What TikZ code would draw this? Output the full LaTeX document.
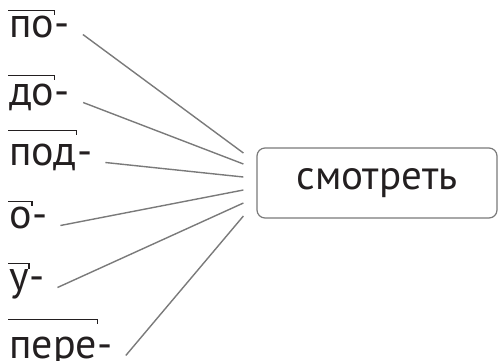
\documentclass[tikz,border=0pt]{standalone}
\usepackage{fontspec}
\setmainfont{PT Sans}
\usetikzlibrary{calc}
\definecolor{linegray}{HTML}{7A7A7A}
\definecolor{inkblack}{HTML}{231F20}
\tikzset{
	pref/.style={inner sep=0pt, text=inkblack, font=\fontsize{42}{48}\selectfont},
	verb/.style={draw=linegray, line width=1.2pt, rounded corners=8pt, text=inkblack,
		minimum width=240pt, minimum height=70pt, font=\fontsize{41}{48}\selectfont},
	link/.style={draw=linegray, line width=1.4pt},
	bar/.style={draw=inkblack, line width=1.2pt}
}
\newcommand{\prefix}[5] % name, x, baseline, letters, bar raise
{
	% letters, then the hyphen
	\node[pref, anchor=base west] (#1) at (#2,#3) {#4};
	\node[pref, anchor=base west] (#1-h) at (#1.base east) {-};
	% morpheme bar with tick
	\draw[bar] ([xshift=-1pt,yshift=#5pt]#1.north west) -- ([yshift=#5pt]#1.north east) -- ++(0,5);
}

\begin{document}
\begin{tikzpicture}[x=1pt, y=-1pt]
	% pixel grid of the reference, y down
	\useasboundingbox (0,0) rectangle (498,360);
	
	\node[verb] (box) at (377,183) {смотреть};
	
	\prefix{po}{9}{37}{по}{5};
	\prefix{do}{9}{105}{до}{8};
	\prefix{pod}{9}{165}{под}{13};
	\prefix{o}{9}{228}{о}{5};
	\prefix{u}{9}{290}{у}{5};
	\prefix{pere}{9}{358}{пере}{17};
	
	% meeting points left of the box
	\foreach \i/\dy in {1/-30,2/-19,3/-6,4/7,5/20,6/33}
		\coordinate (e\i) at ($(box.west)+(-13,\dy)$);
	
	\foreach \p/\i in {po/1,do/2,pod/3,o/4,u/5,pere/6}
		\draw[link] ([xshift=13pt]\p-h.mid east) -- (e\i);
	
\end{tikzpicture}
\end{document}
